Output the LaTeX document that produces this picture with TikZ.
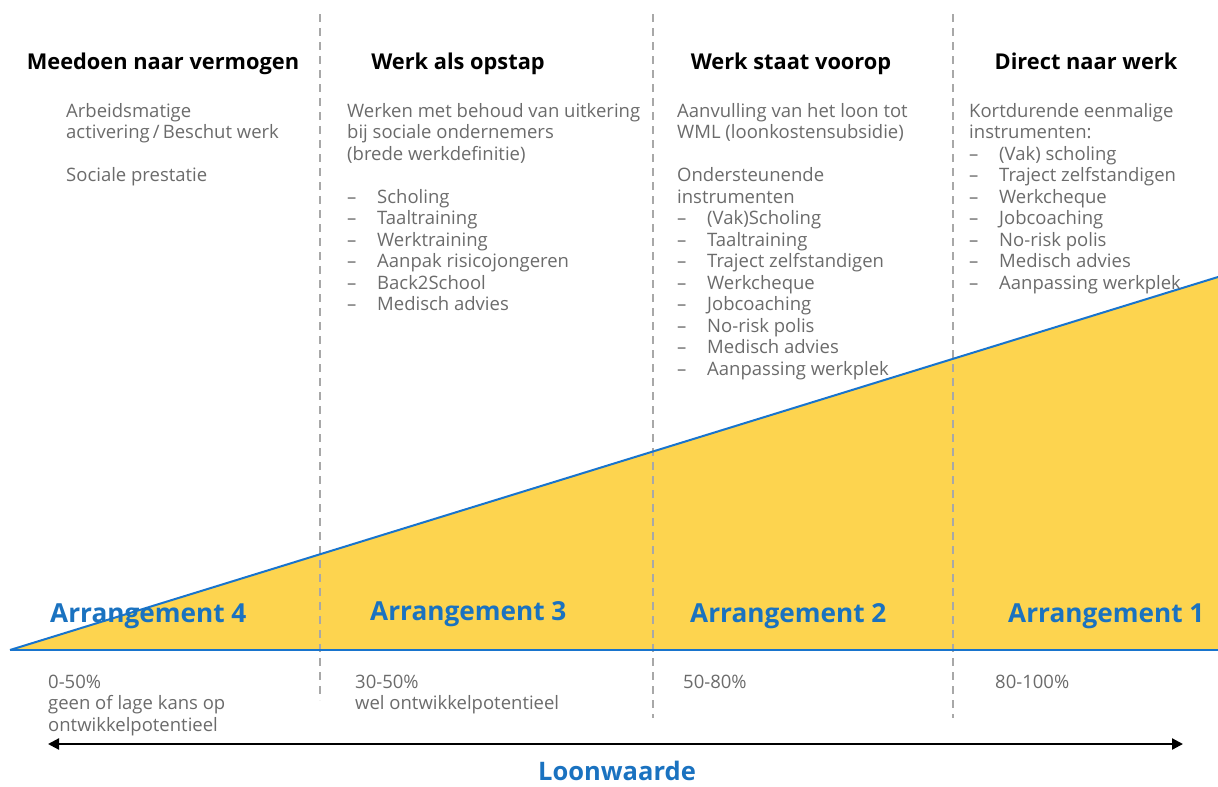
\documentclass[tikz,border=0pt]{standalone}
\usepackage{fontspec}
\setmainfont{Open Sans}
\usetikzlibrary{arrows.meta}
\definecolor{fillY}{HTML}{FDD44F}
\definecolor{lineB}{HTML}{1874CD}
\definecolor{txtB}{HTML}{1A72C0}
\definecolor{txtG}{HTML}{6B6B6B}
\definecolor{dashG}{HTML}{A8A8A8}
\begin{document}
\begin{tikzpicture}[x=1pt,y=-1pt,
  body/.style={anchor=base west, inner sep=0, text=txtG, font=\fontsize{18.5}{21}\selectfont},
  coltitle/.style={anchor=base, inner sep=0, text=black, font=\bfseries\fontsize{21.8}{26}\selectfont},
  arrlabel/.style={anchor=base west, inner sep=0, text=txtB, font=\bfseries\fontsize{26.2}{30}\selectfont},
  sepline/.style={draw=dashG, line width=1.6pt, dash pattern=on 8pt off 6pt},
  blueline/.style={draw=lineB, line width=2pt}]
\useasboundingbox (0,0) rectangle (1218,787);
% triangle
\coordinate (t0) at (10,650);
\coordinate (t1) at (1218,650);
\coordinate (t2) at (1218,277);
\fill[fillY] (t0) -- (t1) -- (t2) -- cycle;
% separators
\coordinate (s1a) at (320,14); \coordinate (s1b) at (320,700);
\coordinate (s2a) at (653,14); \coordinate (s2b) at (653,718);
\coordinate (s3a) at (953,14); \coordinate (s3b) at (953,718);
\draw[sepline] (s1a) -- (s1b);
\draw[sepline] (s2a) -- (s2b);
\draw[sepline] (s3a) -- (s3b);
\draw[blueline] (t0) -- (t2);
\draw[blueline] (t0) -- (t1);
% titles
\node[coltitle] (h1) at (163,69) {Meedoen naar vermogen};
\node[coltitle] (h2) at (458,69) {Werk als opstap};
\node[coltitle] (h3) at (791,69) {Werk staat voorop};
\node[coltitle] (h4) at (1086,69) {Direct naar werk};
% column 1
\node[body] (c1a) at (66,117) {Arbeidsmatige};
\node[body] (c1b) at (66,138.5) {activering\,/\,Beschut werk};
\node[body] (c1c) at (66,181.5) {Sociale prestatie};
% column 2
\node[body] (c2a) at (347,117) {Werken met behoud van uitkering};
\node[body] (c2b) at (347,138.5) {bij sociale ondernemers};
\node[body] (c2c) at (347,160) {(brede werkdefinitie)};
\foreach \t [count=\i from 0] in {Scholing,Taaltraining,Werktraining,Aanpak risicojongeren,Back2School,Medisch advies}{
  \node[body] (c2d\i) at (347,203+21.5*\i) {–};
  \node[body] (c2i\i) at (377,203+21.5*\i) {\t};
}
% column 3
\node[body] (c3a) at (677,117) {Aanvulling van het loon tot};
\node[body] (c3b) at (677,138.5) {WML (loonkostensubsidie)};
\node[body] (c3c) at (677,181.5) {Ondersteunende};
\node[body] (c3d) at (677,203) {instrumenten};
\foreach \t [count=\i from 0] in {(Vak)Scholing,Taaltraining,Traject zelfstandigen,Werkcheque,Jobcoaching,No-risk polis,Medisch advies,Aanpassing werkplek}{
  \node[body] (c3e\i) at (677,224.5+21.5*\i) {–};
  \node[body] (c3i\i) at (707,224.5+21.5*\i) {\t};
}
% column 4
\node[body] (c4a) at (969,117) {Kortdurende eenmalige};
\node[body] (c4b) at (969,138.5) {instrumenten:};
\foreach \t [count=\i from 0] in {(Vak) scholing,Traject zelfstandigen,Werkcheque,Jobcoaching,No-risk polis,Medisch advies,Aanpassing werkplek}{
  \node[body] (c4e\i) at (969,160+21.5*\i) {–};
  \node[body] (c4i\i) at (999,160+21.5*\i) {\t};
}
% arrangements
\node[arrlabel] (a4) at (50,622) {Arrangement 4};
\node[arrlabel] (a3) at (370,620) {Arrangement 3};
\node[arrlabel] (a2) at (690,622) {Arrangement 2};
\node[arrlabel] (a1) at (1008,622) {Arrangement 1};
% bottom texts
\node[body] (b1a) at (48,688) {0-50\%};
\node[body] (b1b) at (48,709.5) {geen of lage kans op};
\node[body] (b1c) at (48,731) {ontwikkelpotentieel};
\node[body] (b2a) at (355,688) {30-50\%};
\node[body] (b2b) at (355,709.5) {wel ontwikkelpotentieel};
\node[body] (b3a) at (683,688) {50-80\%};
\node[body] (b4a) at (995,688) {80-100\%};
% axis arrow
\coordinate (aL) at (48,744);
\coordinate (aR) at (1183,744);
\draw[line width=2.2pt, {Triangle[length=11pt,width=11pt]}-{Triangle[length=11pt,width=11pt]}] (aL) -- (aR);
\node[anchor=base, inner sep=0, text=txtB, font=\bfseries\fontsize{25.5}{30}\selectfont] (lw) at (617,780) {Loonwaarde};
\end{tikzpicture}
\end{document}
